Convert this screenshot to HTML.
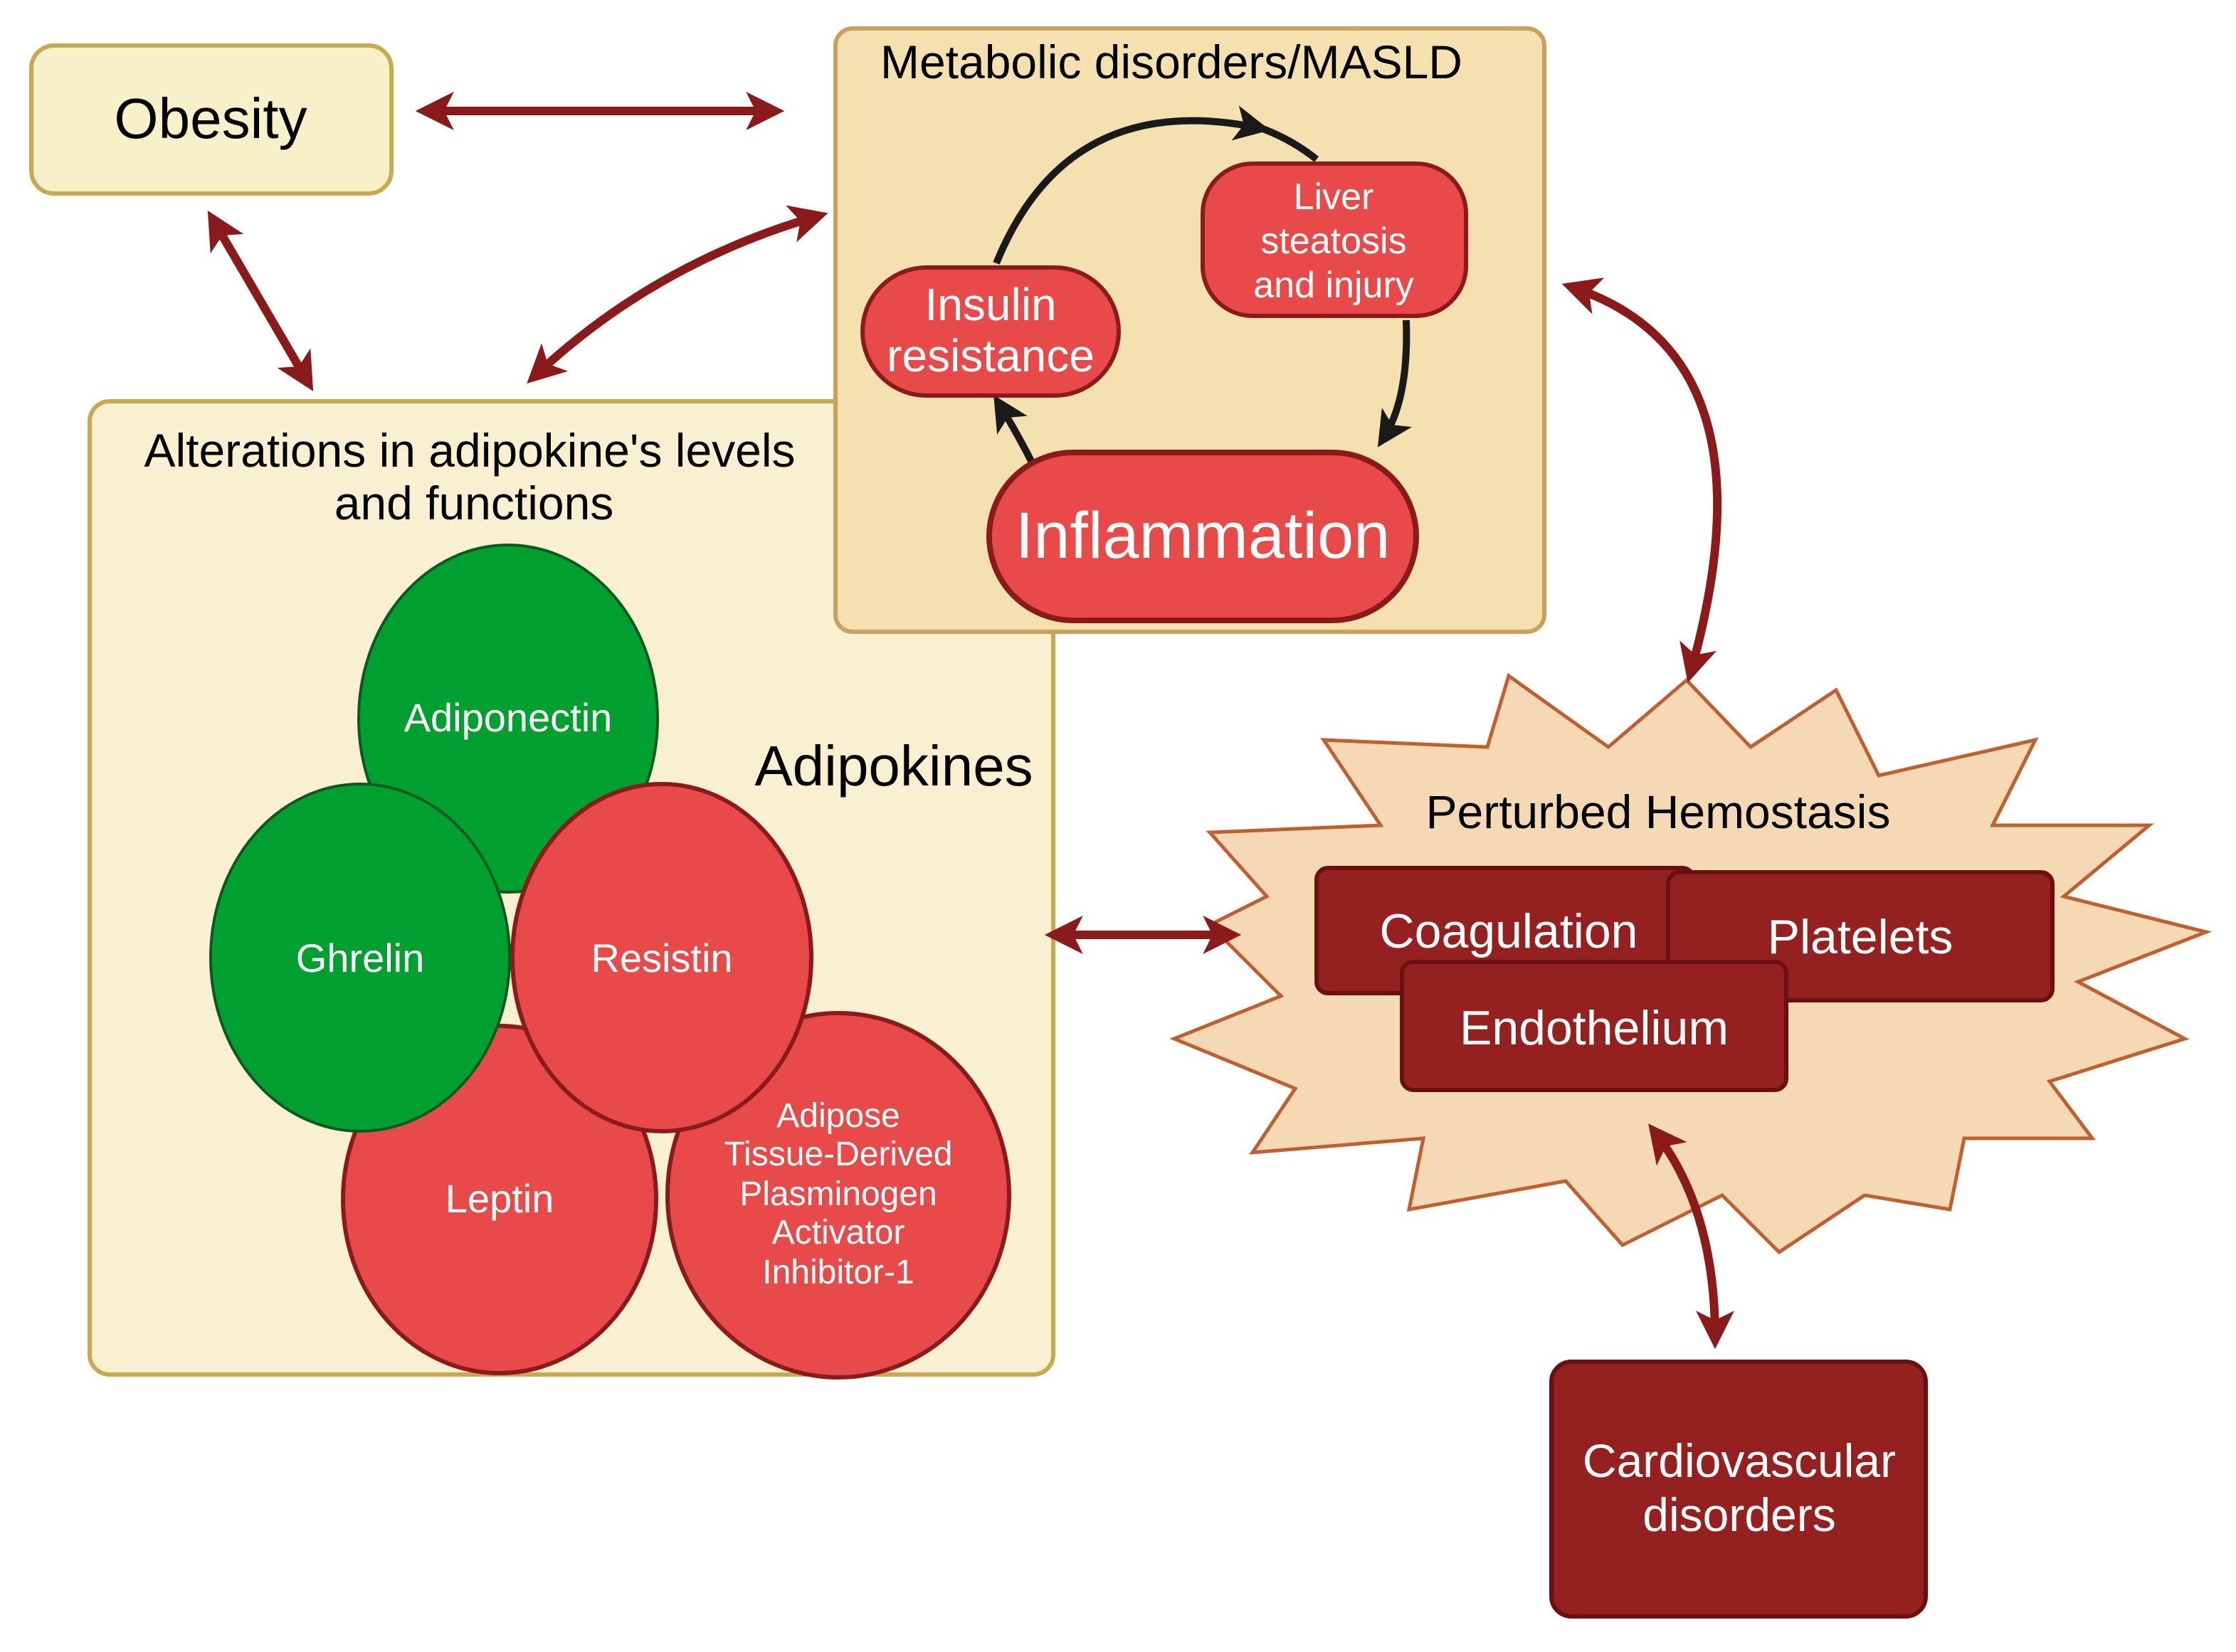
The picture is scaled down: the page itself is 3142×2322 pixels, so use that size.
<!DOCTYPE html>
<html><head><meta charset="utf-8"><style>html,body{margin:0;padding:0;background:#fff}svg{display:block}text{font-family:"Liberation Sans",sans-serif}</style></head><body>
<svg width="3142" height="2322" viewBox="0 0 1571 1161" xmlns="http://www.w3.org/2000/svg">
<defs>
<marker id="r" viewBox="0 0 10 10" refX="7" refY="5" markerWidth="4.5" markerHeight="4.5" orient="auto-start-reverse"><path d="M0,0 L10,5 L0,10 L2.5,5z" fill="#8b1a1a"/></marker>
<marker id="k" viewBox="0 0 10 10" refX="7" refY="5" markerWidth="5" markerHeight="5" orient="auto"><path d="M0,0 L10,5 L0,10 L2.5,5z" fill="#1a1a1a"/></marker>
</defs>
<rect x="22" y="32" width="253" height="104" rx="16" fill="#f8f0c8" stroke="#c9a850" stroke-width="3"/>
<text x="148" y="97" font-size="40" text-anchor="middle">Obesity</text>
<rect x="63" y="282" width="677" height="684" rx="14" fill="#f8f0d0" stroke="#c9a850" stroke-width="3"/>
<text x="330" y="328" font-size="33" text-anchor="middle">Alterations in adipokine's levels</text>
<text x="333" y="365" font-size="33" text-anchor="middle">and functions</text>
<text x="628" y="552" font-size="40" text-anchor="middle">Adipokines</text>
<rect x="587" y="20" width="498" height="424" rx="12" fill="#f5e0b0" stroke="#c9a060" stroke-width="3"/>
<text x="823" y="55" font-size="33" text-anchor="middle">Metabolic disorders/MASLD</text>
<path d="M700,185 Q750,62 885,90" fill="none" stroke="#1a1a1a" stroke-width="5" marker-end="url(#k)"/>
<path d="M880,88 Q905,96 925,112" fill="none" stroke="#1a1a1a" stroke-width="5"/>
<path d="M988,225 Q990,280 972,308" fill="none" stroke="#1a1a1a" stroke-width="5" marker-end="url(#k)"/>
<path d="M725,325 Q715,305 702,284" fill="none" stroke="#1a1a1a" stroke-width="5" marker-end="url(#k)"/>
<rect x="845" y="115" width="185" height="107" rx="35" fill="#e84a4a" stroke="#8b1a1a" stroke-width="3"/>
<g fill="#fff" font-size="26" text-anchor="middle"><text x="937" y="147">Liver</text><text x="937" y="178">steatosis</text><text x="937" y="209">and injury</text></g>
<rect x="606" y="188" width="180" height="90" rx="45" fill="#e84a4a" stroke="#8b1a1a" stroke-width="3"/>
<g fill="#fff" font-size="32" text-anchor="middle"><text x="696" y="225">Insulin</text><text x="696" y="261">resistance</text></g>
<rect x="695" y="318" width="300" height="118" rx="59" fill="#e84a4a" stroke="#8b1a1a" stroke-width="4"/>
<text x="845" y="392" fill="#fff" font-size="46" text-anchor="middle">Inflammation</text>
<ellipse cx="357" cy="505" rx="105" ry="122" fill="#00a030" stroke="#0a5a20" stroke-width="2"/>
<ellipse cx="351" cy="843" rx="110" ry="122" fill="#e84a4a" stroke="#8b1a1a" stroke-width="3"/>
<ellipse cx="589" cy="840" rx="120" ry="128" fill="#e84a4a" stroke="#8b1a1a" stroke-width="3"/>
<ellipse cx="253" cy="673" rx="105" ry="122" fill="#00a030" stroke="#0a5a20" stroke-width="2"/>
<ellipse cx="465" cy="673" rx="105" ry="122" fill="#e84a4a" stroke="#8b1a1a" stroke-width="3"/>
<g fill="#fff" font-size="28" text-anchor="middle">
<text x="357" y="514">Adiponectin</text><text x="253" y="683">Ghrelin</text><text x="465" y="683">Resistin</text><text x="351" y="852">Leptin</text>
<g font-size="24"><text x="589" y="792">Adipose</text><text x="589" y="819">Tissue-Derived</text><text x="589" y="847">Plasminogen</text><text x="589" y="874">Activator</text><text x="589" y="902">Inhibitor-1</text></g></g>
<polygon points="1185,478 1230,525 1290,485 1320,545 1430,520 1400,580 1510,580 1450,630 1550,655 1460,690 1535,730 1440,760 1470,800 1380,800 1370,850 1310,840 1250,880 1210,840 1140,875 1100,830 990,850 1000,800 880,810 910,765 825,730 900,700 850,650 890,630 850,585 970,580 930,520 1045,525 1060,475 1130,525" fill="#f5d9b5" stroke="#c06030" stroke-width="2.5"/>
<text x="1165" y="582" font-size="33" text-anchor="middle">Perturbed Hemostasis</text>
<rect x="925" y="610" width="265" height="88" rx="8" fill="#952020" stroke="#6b1010" stroke-width="3"/>
<rect x="1172" y="613" width="270" height="90" rx="8" fill="#952020" stroke="#6b1010" stroke-width="3"/>
<rect x="985" y="676" width="270" height="90" rx="8" fill="#952020" stroke="#6b1010" stroke-width="3"/>
<g fill="#fff" font-size="34" text-anchor="middle"><text x="1060" y="666">Coagulation</text><text x="1307" y="670">Platelets</text><text x="1120" y="734">Endothelium</text></g>
<rect x="1090" y="957" width="263" height="179" rx="14" fill="#952020" stroke="#6b1010" stroke-width="3"/>
<g fill="#fff" font-size="33" text-anchor="middle"><text x="1222" y="1038">Cardiovascular</text><text x="1222" y="1076">disorders</text></g>
<g fill="none" stroke="#8b1a1a" stroke-width="6" marker-start="url(#r)" marker-end="url(#r)">
<path d="M300,78 L543,78"/>
<path d="M150,155 L216,268"/>
<path d="M376,264 Q460,185 574,152"/>
<path d="M1105,202 Q1250,250 1188,472"/>
<path d="M742,657 L864,657"/>
<path d="M1163,796 Q1205,850 1205,940"/>
</g>
</svg>
</body></html>
